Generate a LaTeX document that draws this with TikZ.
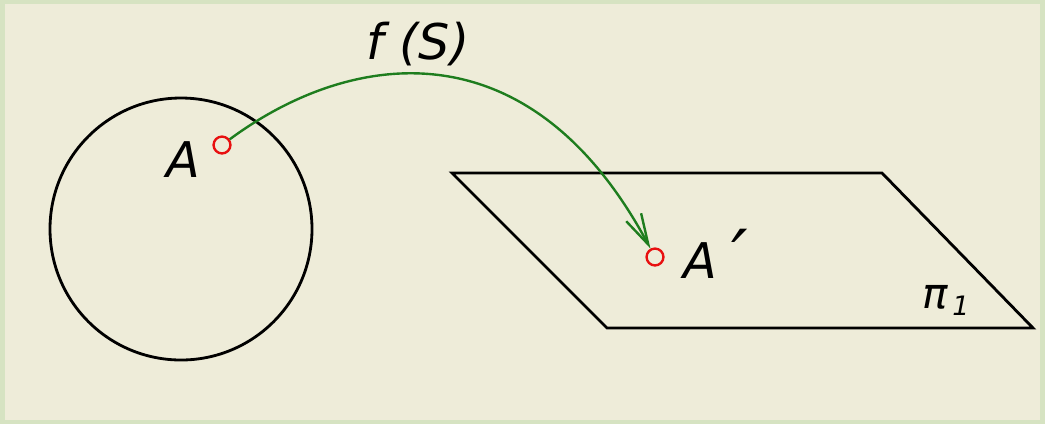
\documentclass[tikz,border=0pt]{standalone}
\usepackage{fontspec}
\setmainfont{DejaVu Sans}
\usetikzlibrary{arrows.meta, positioning}
\definecolor{frame}{HTML}{D6E3C2}
\definecolor{paper}{HTML}{EEECD9}
\definecolor{arc}{HTML}{1E7D1E}
\definecolor{dot}{HTML}{E81010}

\begin{document}
\begin{tikzpicture}[x=0.025cm, y=-0.025cm, line width=2pt,
  point/.style={circle, draw=dot, line width=1.7pt, inner sep=0pt, minimum size=12pt},
  lbl/.style={font=\fontsize{35}{40}\selectfont\itshape}]
  % Rahmen und Hintergrund
  \fill[frame] (0,0) rectangle (1045,424);
  \fill[paper] (5,4) rectangle (1040,420);
  \useasboundingbox (0,0) rectangle (1045,424);

  % Kugel und Ebene
  \draw (181,229) circle[radius=131];
  \draw (452,173) -- (882,173) -- (1033,328) -- (607,328) -- cycle;

  % Punkte
  \node[point] (A) at (222,145) {};
  \node[point] (A2) at (655,257) {};
  \node[lbl, left=4pt of A, yshift=-10pt] (lA) {A};
  \node[lbl, right=9pt of A2, yshift=1pt] (lA2) {A\hspace{10pt}{\fontsize{52}{52}\selectfont\raisebox{-3pt}{′}}};
  \node[font=\fontsize{30}{36}\selectfont\itshape] (pi) at (946,300) {π\hspace{3pt}\fontsize{19}{24}\selectfont\raisebox{-5pt}{1}};

  % Abbildung
  \draw[arc, line width=1.7pt, -{Straight Barb[length=22pt, width=12pt]}]
    (A) .. controls (352,49) and (530,24) .. (A2);
  \node[lbl] (f) at (418,44) {f (S)};
\end{tikzpicture}
\end{document}
